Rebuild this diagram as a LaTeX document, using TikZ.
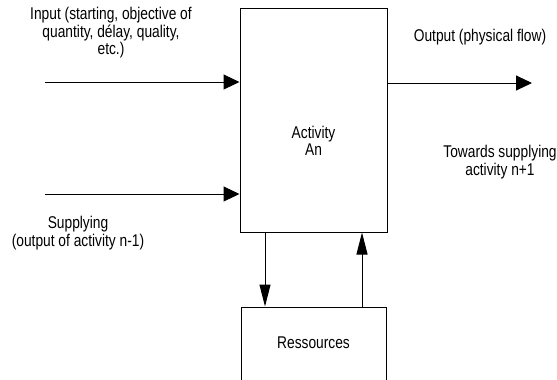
\documentclass[tikz,border=0pt]{standalone}
\usepackage{fontspec}
\setmainfont{Liberation Sans}
\newfontfamily\lblfont[FakeStretch=0.81]{Liberation Sans}
\usetikzlibrary{arrows.meta, positioning}

\begin{document}
\begin{tikzpicture}[x=1pt, y=-1pt,
    box/.style={draw, line width=1pt, rectangle, inner sep=0pt},
    lbl/.style={align=center, inner sep=0pt, font=\lblfont\fontsize{17}{17.5}\selectfont},
    hflow/.style={line width=1pt, -{Triangle[length=16pt, width=15pt]}},
    vflow/.style={line width=1pt, -{Triangle[length=22pt, width=11pt]}}]
    \clip (0,0) rectangle (557,380);
    % boxes
    \node[box, minimum width=147pt, minimum height=224pt] (act) at (313.5,120) {};
    \node[lbl] (actlbl) at (313.5,141) {Activity\\An};
    \node[box, minimum width=145pt, minimum height=120pt] (res) at (313.5,367) {};
    \node[lbl] (reslbl) at (313.5,343) {Ressources};
    % labels
    \node[lbl] (inlbl) at (111,33) {Input (starting, objective of\\quantity, délay, quality,\\etc.)};
    \node[lbl] (suplbl) at (78,233) {Supplying\\(output of activity n-1)};
    \node[lbl] (outlbl) at (480,37) {Output (physical flow)};
    \node[lbl] (nextlbl) at (500,162) {Towards supplying\\activity n+1};
    % connectors
    \coordinate (inS) at (45,82);
    \coordinate (supS) at (45,194);
    \coordinate (outE) at (532,83);
    \coordinate (downX) at (265,0);
    \coordinate (upX) at (362,0);
    \draw[hflow] (inS) -- (inS -| act.west);
    \draw[hflow] (supS) -- (supS -| act.west);
    \draw[hflow] (outE -| act.east) -- (outE);
    \draw[vflow] (act.south -| downX) -- (res.north -| downX);
    \draw[vflow] (res.north -| upX) -- (act.south -| upX);
\end{tikzpicture}
\end{document}
